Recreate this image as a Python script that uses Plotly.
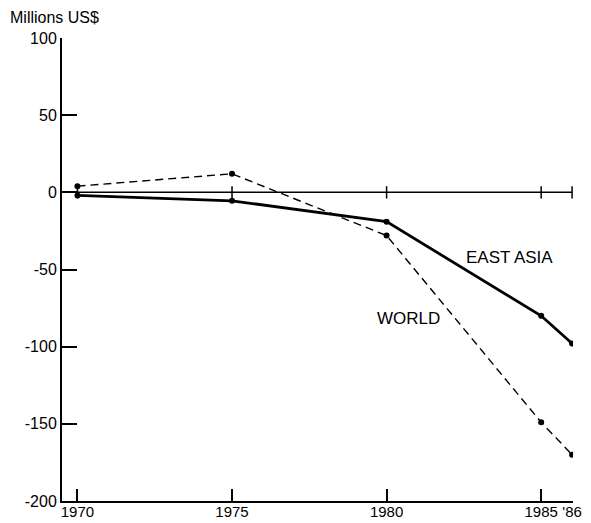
import plotly.graph_objects as go

years = [1970, 1975, 1980, 1985, 1986]
world = [4, 12, -28, -149, -170]
east_asia = [-2, -5.5, -19, -80, -98]
xtick_vals = [1970, 1975, 1980, 1985, 1986]
xtick_text = ["1970", "1975", "1980", "1985", "'86"]
ytick_vals = [100, 50, 0, -50, -100, -150, -200]
ytick_text = ["100", "50", "0", "-50", "-100", "-150", "-200"]

FONT = "Liberation Sans"
fig = go.Figure()

# zero reference line with crossing ticks
fig.add_trace(go.Scatter(x=[1969.5, xtick_vals[-1]], y=[0, 0], mode="lines",
                         line=dict(color="black", width=1.5), hoverinfo="skip", showlegend=False))
for xv in xtick_vals:
    fig.add_trace(go.Scatter(x=[xv, xv], y=[-4, 4], mode="lines",
                             line=dict(color="black", width=1.5), hoverinfo="skip", showlegend=False))

fig.add_trace(go.Scatter(x=years, y=world, mode="lines+markers", name="WORLD",
                         line=dict(color="black", width=1.4, dash="8px,5px"),
                         marker=dict(color="black", size=6), showlegend=False))
fig.add_trace(go.Scatter(x=years, y=east_asia, mode="lines+markers", name="EAST ASIA",
                         line=dict(color="black", width=2.8),
                         marker=dict(color="black", size=6), showlegend=False))

fig.add_annotation(x=1982.5, y=-42.5, text="EAST ASIA", showarrow=False,
                   font=dict(family=FONT, size=17, color="black"), xanchor="left")
fig.add_annotation(x=1981.8, y=-81.5, text="WORLD", showarrow=False,
                   font=dict(family=FONT, size=17, color="black"), xanchor="right")
fig.add_annotation(x=0, y=1.0, xref="paper", yref="paper", xshift=-54, yshift=10,
                   text="Millions US$", showarrow=False, xanchor="left", yanchor="bottom",
                   font=dict(family=FONT, size=16, color="black"))

fig.update_layout(
    width=583, height=515,
    margin=dict(l=54, r=18, t=30, b=22),
    paper_bgcolor="white", plot_bgcolor="white",
    font=dict(family=FONT, size=16, color="black"),
    xaxis=dict(range=[1969.5, 1986.03], tickvals=xtick_vals, ticktext=xtick_text,
               ticks="inside", ticklen=12, tickwidth=2, tickcolor="black",
               ticklabelstandoff=-4, tickfont=dict(size=15),
               showline=True, linecolor="black", linewidth=2, showgrid=False,
               zeroline=False, automargin=False, fixedrange=True),
    yaxis=dict(range=[-200, 100], tickvals=ytick_vals, ticktext=ytick_text,
               ticks="inside", ticklen=15, tickwidth=2, tickcolor="black",
               showline=True, linecolor="black", linewidth=2, showgrid=False,
               zeroline=False, automargin=False, fixedrange=True),
)

fig.write_html("out.html")
